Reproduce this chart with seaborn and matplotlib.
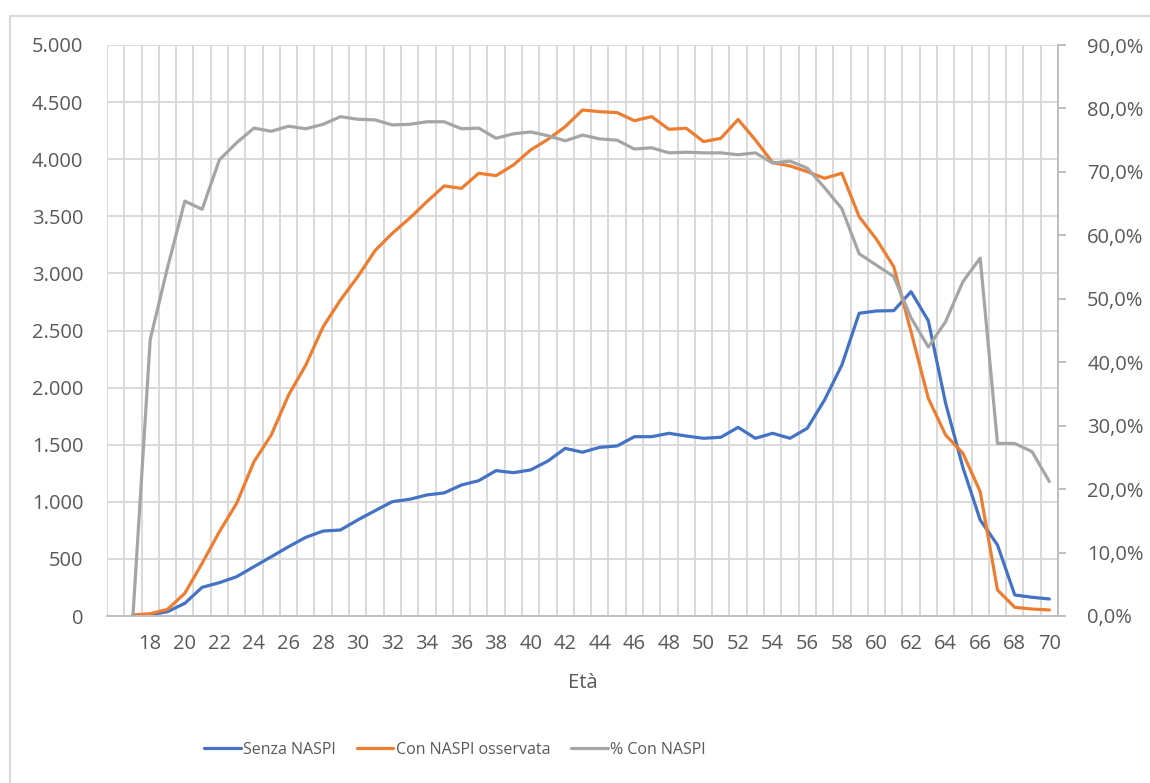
import numpy as np
import pandas as pd
import matplotlib
matplotlib.use("Agg")
import matplotlib.pyplot as plt
import matplotlib.ticker as mticker
from matplotlib.patches import Rectangle
import seaborn as sns

ages = list(range(17, 71))
senza_naspi = [5, 10, 38, 111, 251, 292, 344, 432, 519, 607, 689, 744, 753, 841, 922, 1001,
               1022, 1060, 1078, 1147, 1185, 1273, 1255, 1279, 1357, 1468, 1434, 1477, 1489,
               1570, 1570, 1600, 1576, 1556, 1565, 1652, 1556, 1600, 1556, 1644, 1892, 2198,
               2651, 2671, 2674, 2840, 2586, 1863, 1300, 841, 622, 184, 164, 149]
con_naspi = [10, 20, 58, 199, 461, 738, 987, 1351, 1585, 1935, 2198, 2533, 2767, 2971, 3199,
             3351, 3483, 3628, 3766, 3745, 3877, 3856, 3949, 4081, 4174, 4285, 4431, 4416,
             4408, 4337, 4373, 4262, 4271, 4154, 4183, 4348, 4168, 3970, 3941, 3891, 3833,
             3877, 3497, 3299, 3059, 2490, 1906, 1585, 1425, 1089, 228, 76, 61, 53]
pct_con_naspi = [0.0, 43.6, 54.9, 65.4, 64.1, 71.9, 74.6, 76.9, 76.4, 77.2, 76.8, 77.5, 78.7,
                 78.3, 78.2, 77.4, 77.5, 77.9, 77.9, 76.8, 76.9, 75.3, 76.0, 76.3, 75.7, 74.9,
                 75.8, 75.2, 75.0, 73.6, 73.8, 73.0, 73.1, 73.0, 73.0, 72.7, 73.0, 71.4, 71.7,
                 70.6, 67.5, 64.2, 57.1, 55.3, 53.5, 47.0, 42.4, 46.4, 52.7, 56.4, 27.2, 27.2,
                 25.9, 21.2]
tick_ages = list(range(18, 71, 2))

df = pd.DataFrame({"age": ages, "Senza NASPI": senza_naspi,
                   "Con NASPI osservata": con_naspi, "% Con NASPI": pct_con_naspi})

sns.set_style("white")
plt.rcParams["font.family"] = ["Open Sans", "DejaVu Sans"]

TXT = "#595959"
GRID = "#d9d9d9"
AXL = "#bfbfbf"

fig = plt.figure(figsize=(11.5, 7.83), dpi=100)
ax = fig.add_axes([107 / 1150, 1 - 616 / 783, (1058 - 107) / 1150, (616 - 45) / 783])
ax2 = ax.twinx()

# chart border
fig.patches.append(Rectangle((10 / 1150, -0.1), 1.2, 1 - 16 / 783 + 0.1,
                             transform=fig.transFigure, fill=False,
                             edgecolor="#d9d9d9", linewidth=1.5, zorder=0))

sns.lineplot(data=df, x="age", y="Senza NASPI", ax=ax, color="#4472C4", linewidth=2.3,
             label="Senza NASPI", legend=False)
sns.lineplot(data=df, x="age", y="Con NASPI osservata", ax=ax, color="#ED7D31", linewidth=2.3,
             label="Con NASPI osservata", legend=False)
sns.lineplot(data=df, x="age", y="% Con NASPI", ax=ax2, color="#A5A5A5", linewidth=2.3,
             label="% Con NASPI", legend=False)

ax.set_xlim(15.5, 70.5)
ax.set_ylim(0, 5000)
ax2.set_ylim(0, 90)

ax.set_xticks(tick_ages)
ax.set_xticks(np.arange(15.5, 70.6, 1), minor=True)
ax.set_yticks(np.arange(0, 5001, 500))
ax2.set_yticks(np.arange(0, 91, 10))

ax.yaxis.set_major_formatter(mticker.FuncFormatter(lambda v, p: f"{int(v):,}".replace(",", ".")))
ax2.yaxis.set_major_formatter(mticker.FuncFormatter(lambda v, p: f"{v:.1f}%".replace(".", ",")))

ax.grid(False)
ax.xaxis.grid(True, which="minor", color=GRID, linewidth=1.4)
ax.yaxis.grid(True, which="major", color=GRID, linewidth=1.4)
ax2.grid(False)

for a in (ax, ax2):
    for s in a.spines.values():
        s.set_visible(False)
ax.spines["bottom"].set_visible(True)
ax.spines["bottom"].set_color(AXL)
ax.spines["bottom"].set_linewidth(1.4)
ax2.spines["right"].set_visible(True)
ax2.spines["right"].set_color(AXL)
ax2.spines["right"].set_linewidth(1.4)

ax.tick_params(axis="x", which="both", length=0, labelsize=14.5, labelcolor=TXT, pad=13)
ax.tick_params(axis="y", length=0, labelsize=14.5, labelcolor=TXT, pad=17)
ax2.tick_params(axis="y", length=6, width=1.4, color=AXL, labelsize=14.5, labelcolor=TXT, pad=15)

ax.set_xlabel("Età", fontsize=14.5, color=TXT, labelpad=14)
ax.set_ylabel("")
ax2.set_ylabel("")

h1, l1 = ax.get_legend_handles_labels()
h2, l2 = ax2.get_legend_handles_labels()
leg = fig.legend(h1 + h2, l1 + l2, loc="center", bbox_to_anchor=(455 / 1150, 1 - 750 / 783),
                 ncol=3, frameon=False, handlelength=2.3, handletextpad=0.15,
                 columnspacing=1.3,
                 prop={"family": ["Open Sans", "DejaVu Sans"], "size": 11.5})
for t in leg.get_texts():
    t.set_color(TXT)

fig.savefig("out.png", dpi=100)
